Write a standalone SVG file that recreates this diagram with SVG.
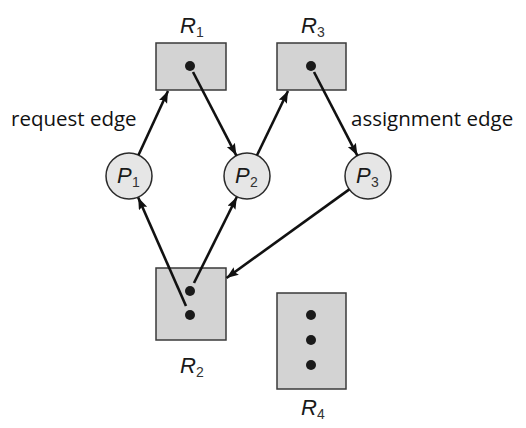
<svg xmlns="http://www.w3.org/2000/svg" width="526" height="428" viewBox="0 0 526 428">
<style>
.res{fill:#d3d3d3;stroke:#3a3a3a;stroke-width:1.5}
.proc{fill:#e6e6e6;stroke:#2a2a2a;stroke-width:1.5}
.dot{fill:#1a1a1a}
.lbl{font-family:"Liberation Sans",Arial,sans-serif;font-style:italic;font-size:22px;fill:#1a1a1a}
.sub{font-family:"Liberation Sans",Arial,sans-serif;font-size:14px;fill:#333}
.edge{stroke:#111;stroke-width:2.6;fill:none;marker-end:url(#arr)}
.note{font-family:"Open Sans","Noto Sans",sans-serif;font-size:20.5px;fill:#111}
</style>
<defs>
<marker id="arr" markerUnits="userSpaceOnUse" markerWidth="13" markerHeight="10" refX="12" refY="4.5" orient="auto">
<path d="M0,0 L12,4.5 L0,9 L2,4.5 z" fill="#111"/>
</marker>
</defs>
<rect width="526" height="428" fill="#fff"/>
<g id="R1">
<rect class="res" x="156" y="43" width="70" height="47"/>
<circle class="dot" cx="190" cy="66" r="5"/>
<text class="lbl" x="180" y="33">R</text><text class="sub" x="196" y="37">1</text>
</g>
<g id="R3">
<rect class="res" x="277" y="43" width="69" height="47"/>
<circle class="dot" cx="311" cy="66" r="5"/>
<text class="lbl" x="301" y="33">R</text><text class="sub" x="317" y="37">3</text>
</g>
<g id="R2">
<rect class="res" x="156" y="268" width="70" height="72"/>
<circle class="dot" cx="190" cy="291" r="5"/>
<circle class="dot" cx="190" cy="315" r="5"/>
<text class="lbl" x="180" y="373">R</text><text class="sub" x="196" y="377">2</text>
</g>
<g id="R4">
<rect class="res" x="277" y="293" width="69" height="96"/>
<circle class="dot" cx="311" cy="315" r="5"/>
<circle class="dot" cx="311" cy="340" r="5"/>
<circle class="dot" cx="311" cy="365" r="5"/>
<text class="lbl" x="301" y="415">R</text><text class="sub" x="317" y="419">4</text>
</g>
<g id="P1">
<circle class="proc" cx="129" cy="176" r="23"/>
<text class="lbl" x="117" y="183">P</text><text class="sub" x="132" y="187">1</text>
</g>
<g id="P2">
<circle class="proc" cx="247" cy="176" r="23"/>
<text class="lbl" x="235" y="183">P</text><text class="sub" x="250" y="187">2</text>
</g>
<g id="P3">
<circle class="proc" cx="368" cy="176" r="23"/>
<text class="lbl" x="356" y="183">P</text><text class="sub" x="371" y="187">3</text>
</g>
<g id="connectors">
<line class="edge" x1="138.5" y1="155" x2="168" y2="91"/>
<line class="edge" x1="193" y1="72" x2="236.4" y2="155.6"/>
<line class="edge" x1="257" y1="155.3" x2="288" y2="91"/>
<line class="edge" x1="314" y1="72" x2="357.4" y2="155.6"/>
<line class="edge" x1="186" y1="306" x2="138.2" y2="197.5"/>
<line class="edge" x1="194" y1="283" x2="236.8" y2="197"/>
<line class="edge" x1="349.3" y1="189.4" x2="226.5" y2="278"/>
</g>
<g id="labels">
<text class="note" x="11" y="126">request edge</text>
<text class="note" x="351" y="126">assignment edge</text>
</g>
</svg>
